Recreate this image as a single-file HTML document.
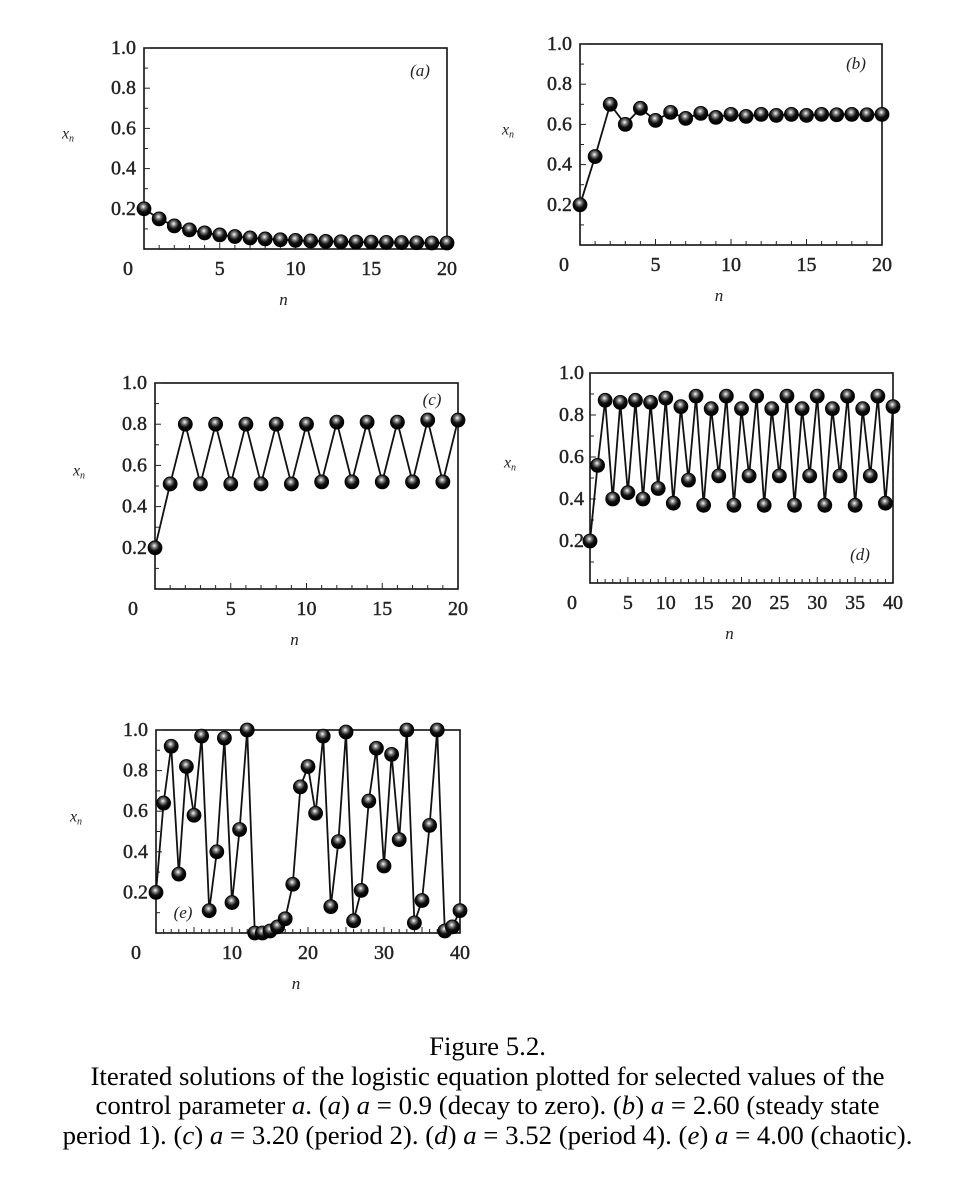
<!DOCTYPE html>
<html><head><meta charset="utf-8"><style>
body{margin:0;background:#fff;}
svg{display:block;font-family:"Liberation Serif",serif;}
.cap{position:absolute;left:0;width:975px;text-align:center;font-family:"Liberation Serif",serif;font-size:26.8px;color:#000;line-height:29.5px;top:1032px;white-space:nowrap;}
</style></head><body>
<svg id="fig" width="975" height="1188" viewBox="0 0 975 1188">
<defs><radialGradient id="ball" cx="0.45" cy="0.35" r="0.6"><stop offset="0" stop-color="#fff"/><stop offset="0.25" stop-color="#888"/><stop offset="0.6" stop-color="#111"/><stop offset="1" stop-color="#000"/></radialGradient></defs>
</svg>
<div class="cap">Figure 5.2.<br>Iterated solutions of the logistic equation plotted for selected values of the<br>control parameter <i>a</i>. (<i>a</i>) <i>a</i> = 0.9 (decay to zero). (<i>b</i>) <i>a</i> = 2.60 (steady state<br>period 1). (<i>c</i>) <i>a</i> = 3.20 (period 2). (<i>d</i>) <i>a</i> = 3.52 (period 4). (<i>e</i>) <i>a</i> = 4.00 (chaotic).</div>
<script>
const seriesA=[0.2,0.15,0.115,0.095,0.08,0.07,0.062,0.055,0.05,0.046,0.043,0.04,0.038,0.036,0.035,0.034,0.033,0.032,0.031,0.03,0.03];
const seriesB=[0.2,0.44,0.70,0.60,0.68,0.62,0.66,0.63,0.655,0.635,0.65,0.64,0.65,0.645,0.65,0.645,0.65,0.648,0.65,0.648,0.65];
const seriesC=[0.2,0.51,0.80,0.51,0.80,0.51,0.80,0.51,0.80,0.51,0.80,0.52,0.81,0.52,0.81,0.52,0.81,0.52,0.82,0.52,0.82];
const seriesD=[0.2,0.56,0.87,0.40,0.86,0.43,0.87,0.40,0.86,0.45,0.88,0.38,0.84,0.49,0.89,0.37,0.83,0.51,0.89,0.37,0.83,0.51,0.89,0.37,0.83,0.51,0.89,0.37,0.83,0.51,0.89,0.37,0.83,0.51,0.89,0.37,0.83,0.51,0.89,0.38,0.84];
const seriesE=[0.2,0.64,0.92,0.29,0.82,0.58,0.97,0.11,0.40,0.96,0.15,0.51,1.0,0.0,0.0,0.01,0.03,0.07,0.24,0.72,0.82,0.59,0.97,0.13,0.45,0.99,0.06,0.21,0.65,0.91,0.33,0.88,0.46,1.0,0.05,0.16,0.53,1.0,0.01,0.03,0.11];
const yTicks=[0.2,0.4,0.6,0.8,1.0];
const xTicks20=[0,5,10,15,20];
const xTicks40d=[0,5,10,15,20,25,30,35,40];
const xTicks40e=[0,10,20,30,40];
const panelLabels=['a','b','c','d','e'];

const svg=document.getElementById('fig');
const NS='http://www.w3.org/2000/svg';
function mk(tag,attrs,parent){const e=document.createElementNS(NS,tag);for(const k in attrs)e.setAttribute(k,attrs[k]);(parent||svg).appendChild(e);return e;}

function panel(cfg){
  const g=mk('g',{});
  
  
  const xs=v=>cfg.x0+(v/cfg.xmax)*(cfg.x1-cfg.x0);
  const ys=v=>cfg.y0-v*(cfg.y0-cfg.y1);
  const box=mk('rect',{x:cfg.x0,y:cfg.y1,width:cfg.x1-cfg.x0,height:cfg.y0-cfg.y1,fill:'none',stroke:'#111','stroke-width':1.6},g);
  
  
  for(let v=0.1;v<1;v+=0.1){mk('line',{x1:cfg.x0,x2:cfg.x0+(Math.round(v*10)%2?4:6),y1:ys(v),y2:ys(v),stroke:'#222','stroke-width':1},g);}
  const step=cfg.xmax/ (cfg.xmax===20?20:40);
  for(let v=step;v<cfg.xmax;v+=step){mk('line',{x1:xs(v),x2:xs(v),y1:cfg.y0,y2:cfg.y0-(v%5===0?6:4),stroke:'#222','stroke-width':1},g);}
  yTicks.forEach(v=>{const t=mk('text',{x:cfg.x0-cfg.ylOff,y:ys(v)+6,'text-anchor':'end','font-size':20,fill:'#222',stroke:'#222','stroke-width':0.4},g);t.textContent=v.toFixed(1);
    });
  cfg.xt.forEach(v=>{const t=mk('text',{x:v===0?xs(v)-cfg.zeroOff:xs(v),y:cfg.y0+26,'text-anchor':'middle','font-size':20,fill:'#222',stroke:'#222','stroke-width':0.4},g);t.textContent=v;
    });
  const xl=mk('text',{x:(cfg.x0+cfg.x1)/2-12,y:cfg.y0+56,'text-anchor':'middle','font-size':17,'font-style':'italic',fill:'#222'},g);xl.textContent='n';
  
  const yl=mk('text',{x:cfg.x0-cfg.ytOff,y:ys(0.55),'text-anchor':'middle','font-size':16,'font-style':'italic',fill:'#222'},g);yl.innerHTML='x<tspan font-size="10" dy="3">n</tspan>';
  
  const pl=mk('text',{x:cfg.lx,y:cfg.ly,'text-anchor':'middle','font-size':17,'font-style':'italic',fill:'#222'},g);pl.textContent='('+cfg.label+')';
  
  const pts=cfg.data.map((v,i)=>xs(i)+','+ys(v)).join(' ');
  const line=mk('polyline',{points:pts,fill:'none',stroke:'#111','stroke-width':1.8},g);
  
  cfg.data.forEach((v,i)=>{const c=mk('circle',{cx:xs(i),cy:ys(v),r:cfg.r,fill:'url(#ball)',stroke:'#000','stroke-width':0.8},g);
    });
}
panel({label:panelLabels[0],data:seriesA,x0:144,x1:447,y0:249,y1:48,xmax:20,xt:xTicks20,ylOff:8,zeroOff:16,ytOff:76,lx:420,ly:76,r:7});
panel({label:panelLabels[1],data:seriesB,x0:580,x1:882,y0:245,y1:44,xmax:20,xt:xTicks20,ylOff:8,zeroOff:16,ytOff:72,lx:856,ly:69,r:7});
panel({label:panelLabels[2],data:seriesC,x0:155,x1:458,y0:589,y1:383,xmax:20,xt:xTicks20,ylOff:8,zeroOff:22,ytOff:76,lx:432,ly:405,r:7});
panel({label:panelLabels[3],data:seriesD,x0:590,x1:893,y0:583,y1:373,xmax:40,xt:xTicks40d,ylOff:6,zeroOff:18,ytOff:80,lx:860,ly:560,r:7});
panel({label:panelLabels[4],data:seriesE,x0:156,x1:460,y0:933,y1:730,xmax:40,xt:xTicks40e,ylOff:8,zeroOff:20,ytOff:80,lx:183,ly:918,r:7});
</script>
</body></html>
